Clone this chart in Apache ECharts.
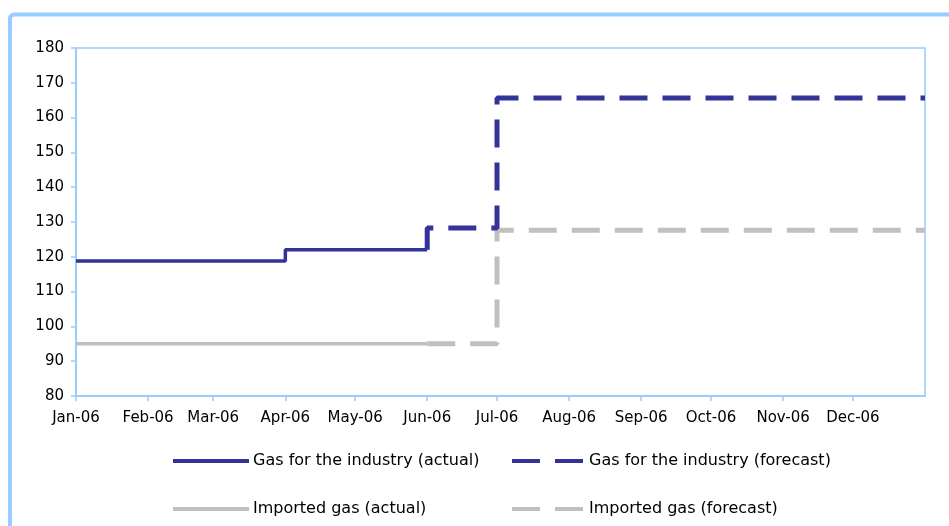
<!DOCTYPE html>
<html>
<head>
<meta charset="utf-8">
<script src="https://cdn.jsdelivr.net/npm/echarts@6/dist/echarts.min.js"></script>
<style>
  html, body { margin: 0; padding: 0; background: #fff; }
  #chart { width: 949px; height: 526px; }
</style>
</head>
<body>
<div id="chart"></div>
<script>
// 月份标签
var monthNames = ['Jan', 'Feb', 'Mar', 'Apr', 'May', 'Jun', 'Jul', 'Aug', 'Sep', 'Oct', 'Nov', 'Dec'];

// 各系列的阶梯数据（日期 + 数值）
var gasActualDates = ['2006-01-01', '2006-04-01', '2006-06-01'];
var gasActualValues = [118.8, 122, 122];

var gasForecastDates = ['2006-06-01', '2006-06-01', '2006-07-01', '2007-01-01'];
var gasForecastValues = [122, 128.3, 165.6, 165.6];

var importActualDates = ['2006-01-01', '2006-06-01'];
var importActualValues = [95, 95];

var importForecastDates = ['2006-06-01', '2006-07-01', '2007-01-01'];
var importForecastValues = [95, 127.6, 127.6];

var names = [
    'Gas for the industry (actual)',
    'Gas for the industry (forecast)',
    'Imported gas (actual)',
    'Imported gas (forecast)'
];

function pairs(dates, values) {
    return dates.map(function (d, i) { return [d, values[i]]; });
}

var font = 'DejaVu Sans, Verdana, sans-serif';
var frameColor = '#99CCFF';
var navy = '#333399';
var grey = '#C0C0C0';
var dash = [28, 15];

var chartDom = document.getElementById('chart');
var myChart = echarts.init(chartDom);
var option;

// 每个图例单独摆放（两行两列）
function legendAt(name, left, top, width, lineType) {
    return {
        data: [name],
        left: left,
        top: top,
        padding: 0,
        itemWidth: width,
        itemHeight: 14,
        itemGap: 0,
        selectedMode: false,
        itemStyle: { opacity: 0 },
        lineStyle: { width: 4, type: lineType },
        textStyle: { fontFamily: font, fontSize: 16, color: '#000', padding: [0, 0, 0, -1] }
    };
}

option = {
    animation: false,
    backgroundColor: '#fff',
    graphic: [
        {
            type: 'rect',
            shape: { x: 10, y: 14.5, width: 1000, height: 600, r: 4 },
            style: { fill: 'none', stroke: frameColor, lineWidth: 4 }
        }
    ],
    grid: {
        left: 76,
        right: 24,
        top: 48,
        bottom: 130,
        show: true,
        borderColor: frameColor,
        borderWidth: 1.5,
        backgroundColor: '#fff'
    },
    legend: [
        legendAt(names[0], 171, 453, 76, 'solid'),
        legendAt(names[1], 510, 453, 73, dash),
        legendAt(names[2], 171, 501, 76, 'solid'),
        legendAt(names[3], 510, 501, 73, dash)
    ],
    xAxis: {
        type: 'time',
        min: '2006-01-01',
        max: '2007-01-01',
        splitNumber: 12,
        axisLine: { lineStyle: { color: frameColor, width: 2 } },
        axisTick: { show: true, length: 5, lineStyle: { color: frameColor, width: 1.5 } },
        splitLine: { show: false },
        axisLabel: {
            color: '#000',
            fontFamily: font,
            fontSize: 15,
            margin: 15,
            interval: 0,
            hideOverlap: false,
            formatter: function (value) {
                var d = new Date(value);
                if (d.getFullYear() !== 2006) return '';
                return monthNames[d.getMonth()] + '-06';
            }
        }
    },
    yAxis: {
        type: 'value',
        min: 80,
        max: 180,
        interval: 10,
        axisLine: { show: true, lineStyle: { color: frameColor, width: 2 } },
        axisTick: { show: true, length: 5, lineStyle: { color: frameColor, width: 1.5 } },
        splitLine: { show: false },
        axisLabel: { color: '#000', fontFamily: font, fontSize: 15, margin: 12 }
    },
    series: [
        {
            name: names[2],
            type: 'line',
            step: 'end',
            symbol: 'none',
            data: pairs(importActualDates, importActualValues),
            lineStyle: { color: grey, width: 3.5 },
            itemStyle: { color: grey }
        },
        {
            name: names[3],
            type: 'line',
            step: 'end',
            symbol: 'none',
            data: pairs(importForecastDates, importForecastValues),
            lineStyle: { color: grey, width: 5, type: dash },
            itemStyle: { color: grey }
        },
        {
            name: names[0],
            type: 'line',
            step: 'end',
            symbol: 'none',
            data: pairs(gasActualDates, gasActualValues),
            lineStyle: { color: navy, width: 3.5 },
            itemStyle: { color: navy }
        },
        {
            name: names[1],
            type: 'line',
            step: 'end',
            symbol: 'none',
            data: pairs(gasForecastDates, gasForecastValues),
            lineStyle: { color: navy, width: 5, type: dash },
            itemStyle: { color: navy }
        }
    ]
};

option && myChart.setOption(option);
</script>
</body>
</html>
